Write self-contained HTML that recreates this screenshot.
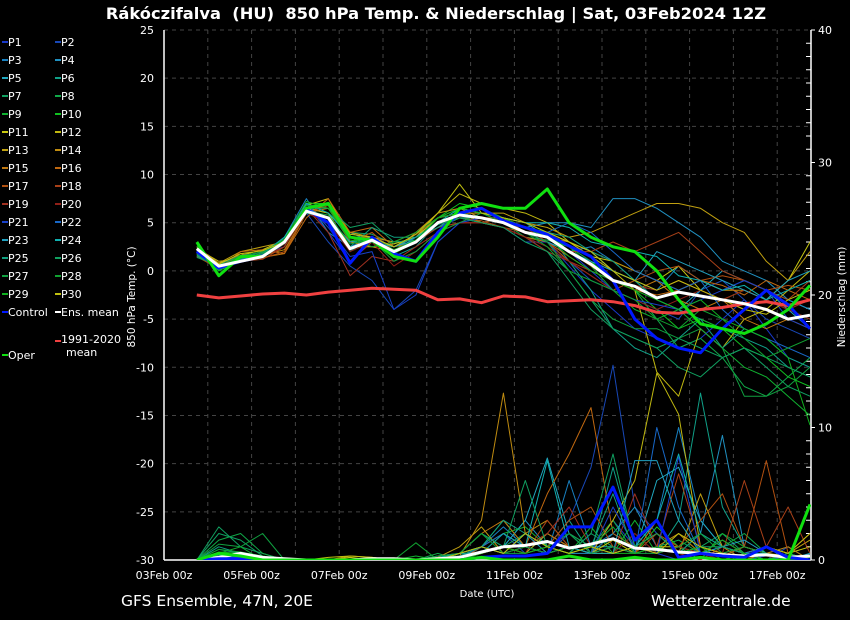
<!DOCTYPE html>
<html><head><meta charset="utf-8"><style>
html,body{margin:0;padding:0;background:#000;}
#wrap{position:relative;width:850px;height:620px;background:#000;overflow:hidden;font-family:"DejaVu Sans","Liberation Sans",sans-serif;color:#fff;}
svg{position:absolute;left:0;top:0;}
</style></head><body>
<div id="wrap">
<svg id="chart" width="850" height="620"></svg>
</div>
<script>
const memberNames = ["P1","P2","P3","P4","P5","P6","P7","P8","P9","P10","P11","P12","P13","P14","P15","P16","P17","P18","P19","P20","P21","P22","P23","P24","P25","P26","P27","P28","P29","P30"];
const memberColors = ["#1838c8","#1848b8","#1880c0","#2090c0","#20a8c0","#10a088","#10a060","#10a848","#10b030","#10c020","#c8c810","#c0b810","#c0a010","#c08c10","#c07810","#c06810","#b05010","#a84018","#a03020","#902018","#1840c8","#1868c8","#20a0c0","#10b0b0","#10a080","#10a060","#10a040","#10a030","#10b020","#c0c010"];
const days = [0.75,1.25,1.75,2.25,2.75,3.25,3.75,4.25,4.75,5.25,5.75,6.25,6.75,7.25,7.75,8.25,8.75,9.25,9.75,10.25,10.75,11.25,11.75,12.25,12.75,13.25,13.75,14.25,14.75];
const tempTicks = [25,20,15,10,5,0,-5,-10,-15,-20,-25,-30];
const precipTicks = [40,30,20,10,0];
const dateTicks = ["03Feb 00z","05Feb 00z","07Feb 00z","09Feb 00z","11Feb 00z","13Feb 00z","15Feb 00z","17Feb 00z"];
const dateTickDays = [0,2,4,6,8,10,12,14];
const ensMean = [2.3,0.5,1.0,1.5,3,6.2,5.5,2.3,3.2,2.0,3,5,5.8,5.5,5,4,3.5,2,0.7,-1,-1.6,-2.8,-2.2,-2.6,-3,-3.4,-4,-5,-4.6];
const control = [2.0,0.3,1.0,1.5,3,6.4,5,0.8,3.5,1.8,1.0,4,6,6.5,5.2,4.5,3.8,2.6,1.5,-1,-5,-7,-8,-8.5,-6,-4,-2,-3.5,-6];
const oper = [3.0,-0.5,1.5,1.5,3,6.5,7,3.5,3.2,1.5,1.0,3.5,6.5,7,6.5,6.5,8.5,5,3.5,2.5,2.0,0,-3,-5.5,-6,-6.5,-5.5,-4,-1.5];
const climate = [-2.5,-2.8,-2.6,-2.4,-2.3,-2.5,-2.2,-2,-1.8,-1.9,-2,-3,-2.9,-3.3,-2.6,-2.7,-3.2,-3.1,-3,-3.2,-3.6,-4.3,-4.4,-4,-3.8,-3.4,-3.2,-3.6,-3.0];
const memberTemps = [
[2,0.8,1.2,1.8,2.5,7,4,1,3.5,2.5,3.5,5.5,6,5,4.5,3,3,0.5,-2,-4,-6,-7,-8,-7,-5,-3,-6,-9,-10],
[2.5,0.2,1.5,2,3,6,3,0.5,-1,-4,-2,3,5,5.5,5,4,3,1,-1,-2,-3,-4,-5,-2,-1,-3,-5,-6,-7],
[2,0.5,1,1.5,3.5,7.5,4,2.5,3.5,2,3,5,6,5,5.5,5,3.5,2,2.5,1,-1,-2,0.5,-1,-2,-1,-2,-3,-4],
[2.2,0,1.2,1.6,3,7,6,4,3,2,3,4.5,6,5.5,5,4.5,5,5,4.5,7.5,7.5,6.5,5,3.5,1,0,-1,-3,-4],
[1.8,0.4,1,1.4,2.8,6.5,5,3,3,2.5,3,4.5,5.5,5.5,5,4.5,4,3,2,0,-1,-3,-4,-2,0,-1,-2,-4,-6],
[2,0.6,1.1,1.7,3,6,5.5,2,3.5,1.5,2.5,5,5.5,5,5.5,4,4,1,-2,-6,-8,-9,-7,-5,-6,-7,-8,-10,-11],
[1.5,0.3,1.4,2,3.2,6.5,6,4,3.8,2.8,3.5,5,5.5,5,4.5,3.5,2,-1,-4,-6,-7,-8,-10,-11,-9,-8,-10,-12,-13],
[1.7,0.5,1.2,1.5,2.8,6.2,5.5,3,3,2,3.2,5.5,6.5,6,5,3.5,3.2,2.5,1,-1,-2,-5,-8,-7,-9,-12,-13,-11,-9],
[2.2,0.4,1,1.8,3,6.8,6.5,3,3.5,2.2,3,5,6.5,6,5.5,4,3.5,2.5,0.5,-2,-4,-5,-4,-6,-8,-10,-11,-13,-15],
[2.8,0,1.4,1.6,3.5,7,7,3.5,3.2,1.8,3,5.5,7,6.5,5.5,5,4,2,1,-1,-2,-4,-6,-5,-6,-8,-9,-11,-12],
[2,0.8,1.6,2.2,3.2,6.5,6,2.5,2.5,2.8,3.5,5.5,6,5,5.5,4.5,4,3,1.5,1,0,-1,0.5,-2,-3,-2,-3,-1,3],
[2.3,1,1.2,1.8,3,6.8,7.5,3.5,3,2.5,3.5,6,8,7,6.5,6,5,3,1.5,0,-2,-10.5,-13,-6,-8,-5,-4,-2,0],
[2.5,0.8,2,2.5,3,6,7,4,3.5,3,4,5.5,6,6,6,5,4.5,3.5,4,5,6,7,7,6.5,5,4,1,-1,2],
[2.2,0.7,1.5,1.6,2.2,6,7,3,2.5,2,4,6,6.5,5.5,5,4.5,3.5,3,2,1,0,-1,-2,-1,-2,-2,-3,-4,-5],
[1.5,0.3,1.8,1.4,1.8,6,6.5,3.5,3.5,2.5,3.8,5.5,6,5,4.5,3.5,3,2,0.5,-1,-2,-1,-3,-4,-3,-5,-6,-5,-6],
[2,0.2,2,2.2,1.8,5.5,7.5,4,4.5,2.5,3,4.5,5.5,5.5,5.5,4,3,1.5,0,-1,-2,-2.5,-2,-1,-1.5,-2.5,-1,-2,-3],
[1.8,0.6,1.2,1.3,2,6,6.8,3,4,2,3.2,5,5.5,5.2,4.5,4,3,1,-0.5,-2,-1,0,0.5,-1,-0.5,-1,-2,-1.5,-2],
[1.5,0.2,1,1.2,2.5,6.2,5,1,3,2.2,3,4.5,5,5,5.5,4.5,3,2,2,3,2,3,4,2,0,-1,-2,-3,-1],
[2,0.5,1.3,1.5,2.5,6.5,4,-0.5,1.5,1,2.5,4,5,5,4.5,3.5,2,1,0,-1,-1.5,-2,-1,-2,-3,-4,-3,-4,-3],
[1.8,0.6,1.1,1.4,2.8,6,5,2,3,0.5,2,4,5,5,4.5,3.5,2.5,1,-0.5,-2,-3,-4,-3,-2,-3,-2,-3,-4,-5],
[2.1,0.2,1.2,1.7,3.5,7,4.5,1.5,2,-4,-2.5,3,5,5.5,5,4,3,2,0,-2,-3,-3.5,-4,-3,-2,-1,-2,-5,-6],
[1.9,0.4,1,1.5,3,6.5,5,2.5,3,2,3.5,5,6,5.5,5,4.5,4,5,4,2,0,-1,-2,-1,-4,-6,-7,-8,-9],
[2,0.3,1.2,1.5,3.2,6.5,5.5,3,3.5,2.5,3.2,5,6,5.5,5,4,3,2,1,0,-1,2,1,0,-1,-2,-3,-1,0],
[2.2,0.2,1.4,1.8,3.5,7,6,3.5,3,2.5,3.5,5,6.5,6,5.5,5,5,4.5,3,2.5,2,1.5,-0.5,-1,-2,-1.5,-3,-2,-1],
[1.6,0.4,1,1.6,3,6,5.5,2.5,4.5,3.5,3.5,4.5,5.5,5.5,5,4.5,4,3.5,2,1,-1,-3,-4,-5,-8,-6,-7,-9,-10],
[1.4,0.6,1.6,1.9,3.3,6.5,6.5,4.5,5,3,3.2,4.8,5.5,5,4.5,3,2,0,-3,-6,-7,-8,-7,-8,-9,-8,-9,-10,-11],
[1.8,0.1,1.3,1.8,2.9,6.2,5.8,2.8,3.2,1,2,4,5,6,5,4,3,0,-3,-5,-6,-6,-7,-6,-8,-13,-13,-12,-10],
[2,0.4,1.5,2,3.1,6.8,6.8,3.5,2.5,3,4,5.5,6,5.5,5,4,2.5,0,-1,-2,-3,-5,-6,-4,-5,-7,-9,-8,-7],
[2.6,0.2,1.6,1.6,3.3,7.2,6.5,3.2,3,2.2,3.2,5.5,6.5,6,5.5,4.5,3.5,1.5,0,-1,-2,-3,-4,-3,-5,-6,-7,-9,-16],
[2.3,0.7,1.8,2.1,3,6.5,7,3.8,3.5,2.5,3.8,6,9,6,5.5,5,4,3,2,0,-1,-2,-1,-2,-3,-4,-4.5,-3,-2]
];
const memberPrecip = [
[0,0,0,0,0,0,0,0,0,0,0,0,0.3,0.5,1,0.5,2,1,0.5,3,1,0.5,0,1,0.5,0,0.3,0,0],
[0,0.2,0,0,0,0,0,0,0,0,0,0,0,1,2,0.5,1,3,7,14.7,4,2,0.5,1,0.5,0,0,1,0],
[0,0.3,0.2,0,0,0,0,0,0,0,0,0,0.5,1,2.5,1,0.5,6,1,2,1,3,10,3,1,0.5,0,0.5,0],
[0,0.5,0.2,0,0,0,0,0,0,0,0,0,0,0.5,1,3,1,0.5,0.5,2,4,1,0.5,2,9.4,1,0.5,0,0],
[0,0.3,0.3,0,0,0,0,0,0,0,0,0.2,0.5,2,1,3,7.7,2,1,1,0.5,6,7,3,1,0.5,0.3,0,0],
[0,1,0.5,0,0,0,0,0,0,0,0,0,0,1,0.5,2,1,3,0.5,7,1,0.5,3,12.6,4,1,0.5,0,0],
[0,2.5,1,0.5,0,0,0,0,0,0,0,0.2,0.3,0.5,1,2,1,0.5,2,1,0.5,1,0.5,1,2,0.5,1,0,0.5],
[0,1.5,2,0.5,0,0,0,0,0,0,0,0.5,0,1,3,1,0.5,2,1,3,0.5,1,1.5,0.5,1,2,0.5,1,0],
[0,0.5,1,0,0,0,0,0,0,0,0.3,0,0.5,1,2,2.5,1,0.5,2.5,0.5,3,0.5,1,0,2,1,0.5,0,0],
[0,0.3,0.5,0,0,0,0,0,0,0,0,0,0.2,0.5,1,0.5,1,2,0.5,1,0.5,2.5,1,0.5,1,0.5,0.3,0,0.2],
[0,0,0,0,0,0,0,0.2,0,0,0,0,0.5,1,0.5,1,0.5,1,0.5,1.5,0.5,1,1,0.5,1.5,0.5,1,0.5,1],
[0,0,0,0,0,0,0,0,0,0,0,0,0,0.5,1,0.5,2,1,0.5,3,6,14.1,11,1,0.5,1,0.5,0.3,0],
[0,0,0,0,0,0,0,0.3,0.2,0,0,0.2,1,2.5,0.5,1,0.5,1,0.5,0.5,1,2,0.5,5,1,0.5,1,0.5,1.5],
[0,0,0,0,0,0,0,0,0,0,0,0,0.3,3,12.6,2,3,1,0.5,1,0.5,1,2,0.5,1,0,0.5,0,0],
[0,0,0.3,0,0,0,0,0,0,0,0,0,0.5,2,3,1,2,1,0.5,1,0.5,3,0.5,1,0.5,0,0.5,1,0],
[0,0,0.2,0,0,0,0,0,0.2,0,0,0,0,1,2,1,5,8,11.5,2,1,0.5,1,0.5,0.3,1,0.5,0,0],
[0,0,0,0,0,0,0,0,0,0,0,0,0.2,0.5,1,0.5,1,3,4,1,0.5,2,1,3,5,1,7.5,0.5,2],
[0,0.2,0,0,0,0,0,0,0,0,0,0,0,0.5,1,0.5,3,1,0.5,1,0.5,1,6.5,1,0.5,6,1,4,0.5],
[0,0.3,0,0,0,0,0,0,0,0,0,0,0.2,1,0.5,1,2,4,1,0.5,5,1,0.5,0,1,0.5,0,0.5,0],
[0,0,0.2,0,0,0,0,0,0,0,0,0,0,0.5,1,0.5,1,0.5,1,0.5,2,0.5,1,0.5,0,0.5,0.3,0,0],
[0,0.2,0.2,0,0,0,0,0,0,0,0,0,0.5,1,0.5,1,0.5,2,0.5,4,1,0.5,7.8,0.5,1,0.5,0,0.3,0],
[0,0.3,0.2,0,0,0,0,0,0,0,0,0,0.2,1,2,1,0.5,1,0.5,1,0.5,10,4,0.5,1,0.5,1,0,0],
[0,0.5,0.3,0,0,0,0,0,0,0,0,0.3,0.5,1,0.5,2,0.5,1,1,0.5,7.5,7.5,3,0.5,1,1.5,0.5,0,0.5],
[0,0.4,0.3,0,0,0,0,0,0,0,0,0,0.5,0.5,2,1,7.5,1,0.5,0.5,1,3,8,2,1,0.5,0.5,0,0],
[0,0.8,0.5,0,0,0,0,0,0,0,0,0,0.3,1,3,2,1,0.5,1,5,0.5,1,0.5,2,1,0.5,0,0.5,0],
[0,2,1.5,0.3,0,0,0,0,0,0,0,0,0.5,2,1,6,1,0.5,2,8,1,2,0.5,1,1,0.5,0,0.5,0],
[0,1.2,1,2,0,0,0,0,0,0,0,0.3,0.5,1,0.5,0.5,1,2,0.5,1,0.5,0.5,1,2,0.5,1,0.5,0,0],
[0,0.8,0.6,0.3,0,0,0,0,0,0,1.3,0,0.5,2,0.5,1,0.5,1,1,2.5,0.5,1,0.5,0.5,1.5,0.5,0,0,0.3],
[0,0.6,0.5,0,0,0,0,0,0,0,0,0,0,0.5,1,0.5,1,0.5,1,0.5,0.5,1,0.5,1,0,0.5,0,0,0],
[0,0,0,0,0,0,0.2,0.3,0.2,0,0,0,0.5,1,0.5,2,1,0.5,1,0.5,1,0.5,2,1,0.5,0.3,1,0.5,2]
];
const controlPrecip = [0,0.1,0.1,0,0,0,0,0,0,0,0,0,0,0.2,0.3,0.3,0.5,2.5,2.5,5.5,1.5,3,0.2,0.5,0.3,0.2,1,0.2,0];
const meanPrecip = [0,0.2,0.5,0.2,0.1,0,0,0,0.1,0.1,0,0.1,0.2,0.6,1.0,1.1,1.4,0.9,1.2,1.6,0.9,0.8,0.6,0.5,0.4,0.3,0.4,0.2,0.3];
const operPrecip = [0,0.5,0.3,0,0,0,0,0,0,0,0,0,0,0.2,0,0,0,0.3,0,0,0.2,0,0,0.2,0,0,0,0,4.2];

const NS = "http://www.w3.org/2000/svg";
const svg = document.getElementById('chart');
const X0 = 164, X1 = 811, Y0 = 30, Y1 = 560, DAYPX = 43.8;
const xS = d => X0 + d * DAYPX;
const yT = v => Y0 + (25 - v) / 55 * (Y1 - Y0);
const yP = v => Y1 - v / 40 * (Y1 - Y0);
function mk(tag, attrs, parent) {
  const e = document.createElementNS(NS, tag);
  for (const k in attrs) e.setAttribute(k, attrs[k]);
  (parent || svg).appendChild(e);
  return e;
}
function txt(s, x, y, size, anchor, parent, extra) {
  const t = mk('text', Object.assign({x: x, y: y, fill: '#fff', 'font-size': size, 'text-anchor': anchor || 'start', 'font-family': '"DejaVu Sans","Liberation Sans",sans-serif'}, extra || {}), parent);
  t.textContent = s;
  return t;
}
const defs = mk('defs', {});
const cp = mk('clipPath', {id: 'pc'}, defs);
mk('rect', {x: X0, y: Y0 - 2, width: X1 - X0, height: Y1 - Y0 + 2}, cp);

const grid = mk('g', {stroke: '#444', 'stroke-width': 1, 'stroke-dasharray': '4,4'});


tempTicks.forEach(v => { if (v > -30) mk('line', {x1: X0, x2: X1, y1: yT(v), y2: yT(v)}, grid); });
[1,2,3,4,5,6,7,8,9,10,11,12,13,14].forEach(d => mk('line', {x1: xS(d), x2: xS(d), y1: Y0, y2: Y1}, grid));

const axes = mk('g', {stroke: '#fff', 'stroke-width': 1.5});


mk('line', {x1: X0, x2: X0, y1: Y0, y2: Y1}, axes);
mk('line', {x1: X1, x2: X1, y1: Y0, y2: Y1}, axes);
mk('line', {x1: X0, x2: X1, y1: Y1, y2: Y1}, axes);
for (let m = 0; m <= 40; m++) mk('line', {x1: X1 - (m % 10 === 0 ? 0 : 5), x2: X1 + (m % 10 === 0 ? 4 : 0), y1: yP(m), y2: yP(m), 'stroke-width': 1}, axes);

const yl = mk('g', {});


tempTicks.forEach(v => txt(String(v), 154, yT(v) + 4, 11, 'end', yl));
const yr = mk('g', {});


precipTicks.forEach(v => txt(String(v), 818, yP(v) + 4, 11, 'start', yr));
const xl = mk('g', {});


dateTicks.forEach((s, i) => txt(s, xS(dateTickDays[i]), 579, 11, 'middle', xl));

const plot = mk('g', {'clip-path': 'url(#pc)', 'stroke-linejoin': 'round', fill: 'none'});


function line(vals, scale, color, w, name) {
  const d = vals.map((v, i) => (i ? 'L' : 'M') + xS(days[i]).toFixed(1) + ',' + scale(v).toFixed(1)).join('');
  const p = mk('path', {d: d, stroke: color, 'stroke-width': w, fill: 'none'}, plot);
  
  
  return p;
}
memberPrecip.forEach((a, i) => line(a, yP, memberColors[i], 1, 'precip-' + memberNames[i].toLowerCase()));
line(meanPrecip, yP, '#fff', 3, 'precip-ens-mean');
line(controlPrecip, yP, '#0018ff', 3, 'precip-control');
line(operPrecip, yP, '#10e010', 3, 'precip-oper');
memberTemps.forEach((a, i) => line(a, yT, memberColors[i], 1, 'temp-' + memberNames[i].toLowerCase()));
line(climate, yT, '#f04040', 3, 'temp-climate-mean');
line(control, yT, '#0018ff', 3, 'temp-control');
line(oper, yT, '#10e010', 3, 'temp-oper');
line(ensMean, yT, '#fff', 3, 'temp-ens-mean');

const lg = mk('g', {});


memberNames.forEach((n, i) => {
  const col = i % 2, row = Math.floor(i / 2);
  const lx = col ? 55 : 2, ly = 42 + row * 18;
  const g = mk('g', {}, lg);
  
  
  mk('line', {x1: lx, x2: lx + 6, y1: ly, y2: ly, stroke: memberColors[i], 'stroke-width': 2}, g);
  txt(n, lx + 6, ly + 4, 11, 'start', g);
});
[["Control", 2, 312, '#0018ff'], ["Ens. mean", 55, 312, '#fff'], ["Oper", 2, 355, '#10e010']].forEach(e => {
  const g = mk('g', {}, lg);
  
  
  mk('line', {x1: e[1], x2: e[1] + 6, y1: e[2], y2: e[2], stroke: e[3], 'stroke-width': 2}, g);
  txt(e[0], e[1] + 6, e[2] + 4, 11, 'start', g);
});
const gc = mk('g', {}, lg);


mk('line', {x1: 55, x2: 61, y1: 341, y2: 341, stroke: '#f04040', 'stroke-width': 2}, gc);
txt('1991-2020', 61, 343, 11, 'start', gc);
txt('mean', 66, 356, 11, 'start', gc);

const t1 = txt('Rákóczifalva\u00a0\u00a0(HU)\u00a0\u00a0850 hPa Temp. & Niederschlag | Sat, 03Feb2024 12Z', 436, 19, 16.3, 'middle', svg, {'font-weight': 'bold'});


const t2 = txt('GFS Ensemble, 47N, 20E', 121, 606, 15.5, 'start');


const t3 = txt('Wetterzentrale.de', 651, 606, 15.5, 'start');


const t4 = txt('Date (UTC)', 487, 597, 10, 'middle');


const t5 = txt('850 hPa Temp. (°C)', 0, 0, 10.5, 'middle', svg, {transform: 'translate(135,297) rotate(-90)'});


const t6 = txt('Niederschlag (mm)', 0, 0, 10.5, 'middle', svg, {transform: 'translate(845,297) rotate(-90)'});


</script>
</body></html>
